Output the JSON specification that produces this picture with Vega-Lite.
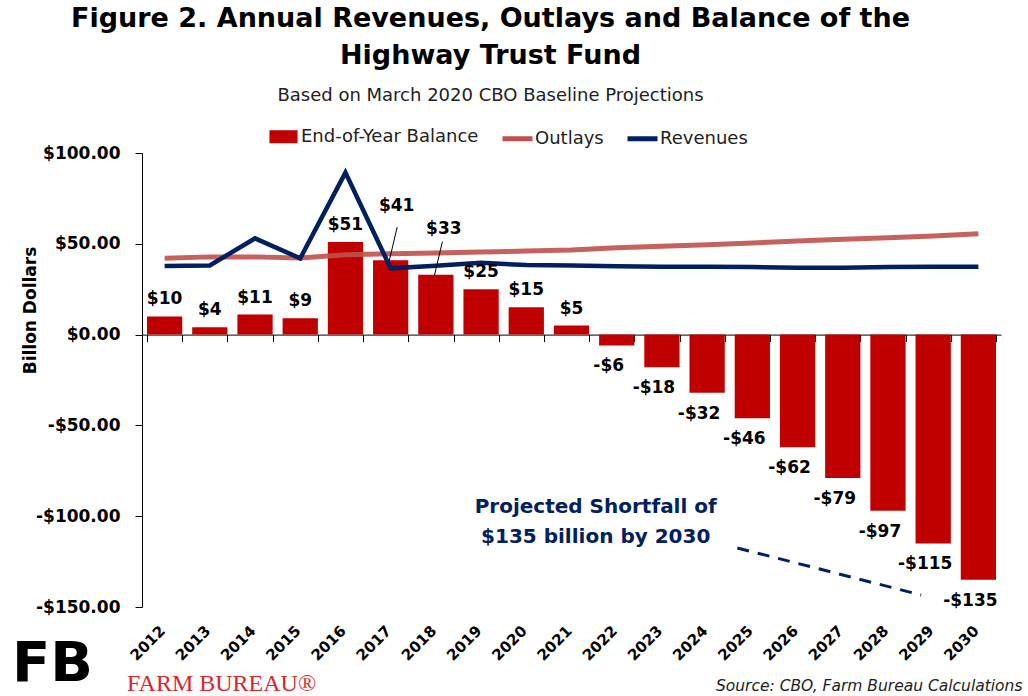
{
  "$schema": "https://vega.github.io/schema/vega-lite/v6.json",
  "autosize": {"type": "none"},
  "width": 859,
  "height": 454,
  "padding": {"left": 142, "top": 153, "right": 27, "bottom": 89},
  "background": "white",
  "title": {
    "text": ["Figure 2. Annual Revenues, Outlays and Balance of the", "Highway Trust Fund"],
    "subtitle": "Based on March 2020 CBO Baseline Projections",
    "font": "DejaVu Sans",
    "fontSize": 27,
    "fontWeight": "bold",
    "lineHeight": 37,
    "color": "black",
    "subtitleFont": "DejaVu Sans",
    "subtitleFontSize": 18,
    "subtitleColor": "#222222",
    "subtitlePadding": 17,
    "anchor": "middle",
    "frame": "group",
    "dx": -81,
    "offset": 13
  },
  "data": {
    "values": [
      {"year": 2012, "balance": 10, "outlays": 42.0, "revenues": 37.8},
      {"year": 2013, "balance": 4, "outlays": 42.8, "revenues": 38.1},
      {"year": 2014, "balance": 11, "outlays": 42.8, "revenues": 53.0},
      {"year": 2015, "balance": 9, "outlays": 42.2, "revenues": 42.0},
      {"year": 2016, "balance": 51, "outlays": 44.0, "revenues": 89.2},
      {"year": 2017, "balance": 41, "outlays": 44.5, "revenues": 36.5},
      {"year": 2018, "balance": 33, "outlays": 45.0, "revenues": 37.9},
      {"year": 2019, "balance": 25, "outlays": 45.5, "revenues": 39.5},
      {"year": 2020, "balance": 15, "outlays": 46.0, "revenues": 38.3},
      {"year": 2021, "balance": 5, "outlays": 46.6, "revenues": 38.0},
      {"year": 2022, "balance": -6, "outlays": 47.8, "revenues": 37.6},
      {"year": 2023, "balance": -18, "outlays": 48.7, "revenues": 37.3},
      {"year": 2024, "balance": -32, "outlays": 49.5, "revenues": 37.3},
      {"year": 2025, "balance": -46, "outlays": 50.5, "revenues": 37.2},
      {"year": 2026, "balance": -62, "outlays": 51.5, "revenues": 36.8},
      {"year": 2027, "balance": -79, "outlays": 52.5, "revenues": 36.8},
      {"year": 2028, "balance": -97, "outlays": 53.3, "revenues": 37.2},
      {"year": 2029, "balance": -115, "outlays": 54.3, "revenues": 37.3},
      {"year": 2030, "balance": -135, "outlays": 55.5, "revenues": 37.3}
    ]
  },
  "resolve": {"axis": {"x": "independent"}},
  "layer": [
    {
      "mark": {"type": "bar", "color": "#c00000"},
      "encoding": {
        "x": {
          "field": "year",
          "type": "ordinal",
          "scale": {"paddingInner": 0.22, "paddingOuter": 0.11},
          "axis": {
            "orient": "bottom",
            "title": null,
            "labels": false,
            "domain": true,
            "domainColor": "black",
            "ticks": true,
            "tickColor": "black",
            "tickSize": 7,
            "tickBand": "extent",
            "offset": -272.4,
            "grid": false
          }
        },
        "y": {
          "field": "balance",
          "type": "quantitative",
          "scale": {"domain": [-150, 100], "nice": false, "zero": false},
          "axis": {
            "title": "Billon Dollars",
            "titleFont": "DejaVu Sans",
            "titleFontSize": 17,
            "titleFontWeight": "bold",
            "titleColor": "black",
            "titleX": -112,
            "titleY": 157,
            "titleAlign": "center",
            "titleBaseline": "middle",
            "values": [-150, -100, -50, 0, 50, 100],
            "format": "$,.2f",
            "labelFont": "DejaVu Sans",
            "labelFontSize": 17,
            "labelFontWeight": "bold",
            "labelColor": "black",
            "labelPadding": 15,
            "domainColor": "black",
            "tickColor": "black",
            "tickSize": 7,
            "grid": false
          }
        },
        "color": {
          "datum": "End-of-Year Balance",
          "type": "nominal",
          "scale": {
            "domain": ["End-of-Year Balance", "Outlays", "Revenues"],
            "range": ["#c00000", "#c0504d", "#002060"]
          },
          "legend": {
            "title": null,
            "orient": "none",
            "direction": "horizontal",
            "legendX": 124,
            "legendY": -34,
            "symbolType": "stroke",
            "symbolSize": 900,
            "symbolStrokeWidth": 5,
            "labelFont": "DejaVu Sans",
            "labelFontSize": 18,
            "labelLimit": 400,
            "labelColor": "#222222",
            "labelOffset": 0,
            "labelBaseline": "middle",
            "columnPadding": 13,
            "encode": {
              "symbols": {
                "update": {
                  "fill": {"signal": "datum.value === 'End-of-Year Balance' ? scale('color', datum.value) : 'transparent'"},
                  "stroke": {"signal": "datum.value === 'End-of-Year Balance' ? 'transparent' : scale('color', datum.value)"},
                  "shape": {"signal": "datum.value === 'End-of-Year Balance' ? 'M-0.77,-0.27H0.77V0.27H-0.77Z' : 'stroke'"},
                  "strokeWidth": {"value": 5}
                }
              }
            }
          }
        }
      }
    },
    {
      "mark": {"type": "line", "strokeWidth": 5, "strokeOpacity": 0.9},
      "encoding": {
        "x": {
          "field": "year",
          "type": "ordinal",
          "axis": {
            "orient": "bottom",
            "domain": false,
            "ticks": false,
            "grid": false,
            "labelAngle": -45,
            "labelFont": "DejaVu Sans",
            "labelFontSize": 15,
            "labelFontWeight": "bold",
            "labelColor": "black",
            "labelPadding": 16,
            "labelOffset": -7,
            "title": "Source: CBO, Farm Bureau Calculations",
            "titleFont": "DejaVu Sans",
            "titleFontSize": 15.5,
            "titleFontStyle": "italic",
            "titleFontWeight": "normal",
            "titleColor": "#222222",
            "titleX": 880,
            "titleY": 83,
            "titleAlign": "right",
            "titleBaseline": "alphabetic"
          }
        },
        "y": {"field": "outlays", "type": "quantitative"},
        "color": {"datum": "Outlays", "type": "nominal", "legend": null}
      }
    },
    {
      "mark": {"type": "line", "strokeWidth": 4.5},
      "encoding": {
        "x": {"field": "year", "type": "ordinal", "axis": null},
        "y": {"field": "revenues", "type": "quantitative"},
        "color": {"datum": "Revenues", "type": "nominal", "legend": null}
      }
    },
    {
      "transform": [{"filter": "datum.balance >= 0 && datum.year != 2017 && datum.year != 2018"}],
      "mark": {"type": "text", "font": "DejaVu Sans", "fontSize": 17, "fontWeight": "bold", "color": "black", "baseline": "alphabetic", "dy": -12},
      "encoding": {
        "x": {"field": "year", "type": "ordinal", "axis": null},
        "y": {"field": "balance", "type": "quantitative"},
        "text": {"field": "balance", "type": "quantitative", "format": "$d"}
      }
    },
    {
      "transform": [{"filter": "datum.year == 2017"}],
      "mark": {"type": "text", "font": "DejaVu Sans", "fontSize": 17, "fontWeight": "bold", "color": "black", "baseline": "alphabetic", "dy": -49, "dx": 6},
      "encoding": {
        "x": {"field": "year", "type": "ordinal", "axis": null},
        "y": {"field": "balance", "type": "quantitative"},
        "text": {"field": "balance", "type": "quantitative", "format": "$d"}
      }
    },
    {
      "transform": [{"filter": "datum.year == 2018"}],
      "mark": {"type": "text", "font": "DejaVu Sans", "fontSize": 17, "fontWeight": "bold", "color": "black", "baseline": "alphabetic", "dy": -41, "dx": 8},
      "encoding": {
        "x": {"field": "year", "type": "ordinal", "axis": null},
        "y": {"field": "balance", "type": "quantitative"},
        "text": {"field": "balance", "type": "quantitative", "format": "$d"}
      }
    },
    {
      "transform": [{"filter": "datum.year == 2017 || datum.year == 2018"}],
      "mark": {"type": "rule", "color": "black", "strokeWidth": 1, "xOffset": -1.5, "x2Offset": 6.5, "yOffset": 1, "y2Offset": -33},
      "encoding": {
        "x": {"field": "year", "type": "ordinal", "axis": null},
        "x2": {"field": "year"},
        "y": {"field": "balance", "type": "quantitative"},
        "y2": {"field": "balance"}
      }
    },
    {
      "transform": [{"filter": "datum.balance < 0"}],
      "mark": {"type": "text", "font": "DejaVu Sans", "fontSize": 17, "fontWeight": "bold", "color": "black", "baseline": "middle", "dy": 21, "dx": -8},
      "encoding": {
        "x": {"field": "year", "type": "ordinal", "axis": null},
        "y": {"field": "balance", "type": "quantitative"},
        "text": {"field": "balance", "type": "quantitative", "format": "$d"}
      }
    },
    {
      "data": {"values": [{}]},
      "mark": {"type": "text", "font": "DejaVu Sans", "fontSize": 20, "fontWeight": "bold", "color": "#002060", "align": "center", "baseline": "alphabetic", "lineHeight": 30, "xOffset": -21},
      "encoding": {
        "x": {"datum": 2022, "type": "ordinal", "axis": null},
        "y": {"datum": -98, "type": "quantitative"},
        "text": {"value": ["Projected Shortfall of", "$135 billion by 2030"]}
      }
    },
    {
      "data": {"values": [{}]},
      "mark": {"type": "rule", "color": "#002060", "strokeWidth": 3, "strokeDash": [12, 9], "xOffset": -15, "x2Offset": -12},
      "encoding": {
        "x": {"datum": 2025, "type": "ordinal", "axis": null},
        "x2": {"datum": 2029},
        "y": {"datum": -117.5, "type": "quantitative"},
        "y2": {"datum": -143.4}
      }
    },
    {
      "data": {"values": [{}]},
      "mark": {"type": "text", "font": "Liberation Serif", "fontSize": 24, "color": "#d7262e", "align": "left", "baseline": "alphabetic", "xOffset": -37.6},
      "encoding": {
        "x": {"datum": 2012, "type": "ordinal", "axis": null},
        "y": {"datum": -196, "type": "quantitative"},
        "text": {"value": "FARM BUREAU®"}
      }
    },
    {
      "data": {"values": [{}]},
      "mark": {"type": "text", "font": "DejaVu Sans", "fontSize": 56, "fontWeight": "bold", "color": "black", "align": "left", "baseline": "alphabetic", "xOffset": -152.6},
      "encoding": {
        "x": {"datum": 2012, "type": "ordinal", "axis": null},
        "y": {"datum": -190.5, "type": "quantitative"},
        "text": {"value": "FB"}
      }
    }
  ],
  "config": {
    "font": "DejaVu Sans",
    "view": {"stroke": null},
    "locale": {
      "number": {
        "decimal": ".",
        "thousands": ",",
        "grouping": [3],
        "currency": ["$", ""],
        "minus": "-"
      }
    }
  }
}
